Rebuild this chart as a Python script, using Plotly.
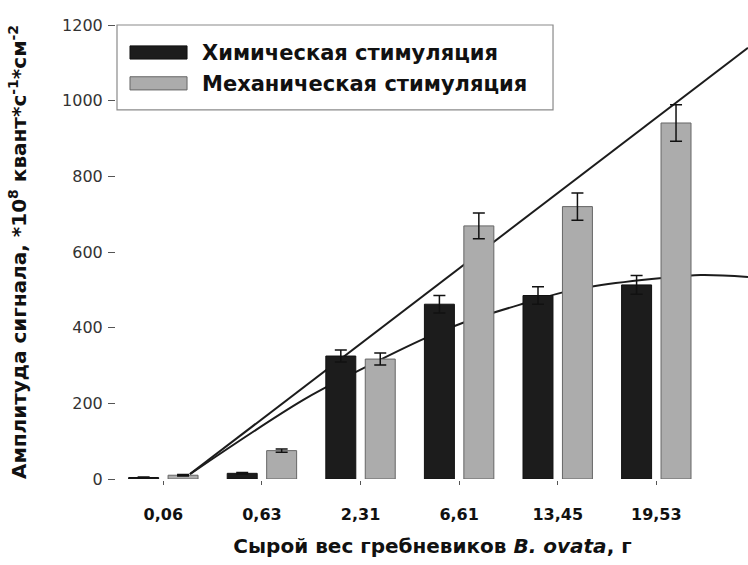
import plotly.graph_objects as go

# Wet weight of ctenophores (categories on the x axis)
weights = ["0,06", "0,63", "2,31", "6,61", "13,45", "19,53"]
positions = [0, 1, 2, 3, 4, 5]

# Signal amplitude, *10^8 quanta s^-1 cm^-2
chem = [4, 15, 325, 462, 485, 513]
chem_err = [1, 2, 16, 23, 23, 25]
mech = [10, 75, 317, 669, 720, 941]
mech_err = [2, 4, 16, 34, 36, 48]

# Linear trend for mechanical stimulation (end points)
lin_x = [0.27, 5.93]
lin_y = [13, 1140]

# Polynomial trend for chemical stimulation (points along the curve)
poly_x = [0.27, 1.42, 1.97, 2.68, 3.06, 3.67, 4.06, 4.38, 5.06, 5.45, 5.93]
poly_y = [13, 209, 285, 375, 415, 465, 494, 510, 531, 539, 534]

legend_names = ["Химическая стимуляция", "Механическая стимуляция"]

FONT = "DejaVu Sans"
BLACK = "#1c1c1c"
GRAY = "#acacac"

fig = go.Figure()

fig.add_trace(go.Scatter(
    x=lin_x, y=lin_y, mode="lines", line=dict(color=BLACK, width=2),
    showlegend=False, hoverinfo="skip", zorder=0))
fig.add_trace(go.Scatter(
    x=poly_x, y=poly_y, mode="lines", line=dict(color=BLACK, width=2, shape="spline"),
    showlegend=False, hoverinfo="skip", zorder=0))

fig.add_trace(go.Bar(
    x=positions, y=chem, name=legend_names[0],
    marker=dict(color=BLACK, line=dict(color="#111111", width=1)),
    error_y=dict(type="data", array=chem_err, color="#111111", thickness=1.5, width=6),
    showlegend=False, zorder=1))
fig.add_trace(go.Bar(
    x=positions, y=mech, name=legend_names[1],
    marker=dict(color=GRAY, line=dict(color="#666666", width=1)),
    error_y=dict(type="data", array=mech_err, color="#111111", thickness=1.5, width=6),
    showlegend=False, zorder=1))

# Legend drawn as a framed box with wide swatches
shapes = [
    dict(type="rect", xref="paper", yref="paper", x0=0, x1=0.691, y0=0.813, y1=1.0,
         line=dict(color="#8a8a8a", width=1.2), fillcolor="white", layer="above"),
    dict(type="rect", xref="paper", yref="paper", x0=0.0206, x1=0.111, y0=0.925, y1=0.954,
         line=dict(color="#111111", width=1), fillcolor=BLACK, layer="above"),
    dict(type="rect", xref="paper", yref="paper", x0=0.0206, x1=0.111, y0=0.857, y1=0.886,
         line=dict(color="#666666", width=1), fillcolor=GRAY, layer="above"),
]
annotations = [
    dict(text="<b>" + legend_names[0] + "</b>", xref="paper", yref="paper", x=0.131, y=0.939,
         xanchor="left", yanchor="middle", showarrow=False,
         font=dict(family=FONT, size=21, color="#111111")),
    dict(text="<b>" + legend_names[1] + "</b>", xref="paper", yref="paper", x=0.131, y=0.871,
         xanchor="left", yanchor="middle", showarrow=False,
         font=dict(family=FONT, size=21, color="#111111")),
]

fig.update_layout(
    width=748, height=565,
    margin=dict(l=117, r=0, t=25, b=86),
    paper_bgcolor="white", plot_bgcolor="white",
    barmode="group", bargap=0.2, bargroupgap=0.24,
    showlegend=False,
    shapes=shapes, annotations=annotations,
    font=dict(family=FONT, color="#222222"),
    xaxis=dict(
        range=[-0.47, 5.93], tickmode="array", tickvals=positions, ticktext=weights,
        showgrid=False, zeroline=False, showline=True, linecolor="#555555", linewidth=2,
        ticks="outside", ticklen=4, tickcolor="#555555", tickwidth=1,
        tickfont=dict(family=FONT, size=16, color="#111111", weight="bold"),
        ticklabelstandoff=16,
        title=dict(text="Сырой вес гребневиков <i>B. ovata</i>, г", standoff=16,
                   font=dict(family=FONT, size=20, color="#111111", weight="bold")),
    ),
    yaxis=dict(
        range=[0, 1200], tickvals=[0, 200, 400, 600, 800, 1000, 1200],
        showgrid=False, zeroline=False, showline=True, linecolor="#555555", linewidth=2,
        ticks="outside", ticklen=7, tickcolor="#555555", tickwidth=1,
        tickfont=dict(family=FONT, size=16, color="#333333"),
        ticklabelstandoff=2,
        title=dict(text="Амплитуда сигнала, *10<sup>8</sup> квант*с<sup>-1</sup>*см<sup>-2</sup>",
                   standoff=30,
                   font=dict(family=FONT, size=20, color="#111111", weight="bold")),
    ),
)

fig.write_html("out.html")
